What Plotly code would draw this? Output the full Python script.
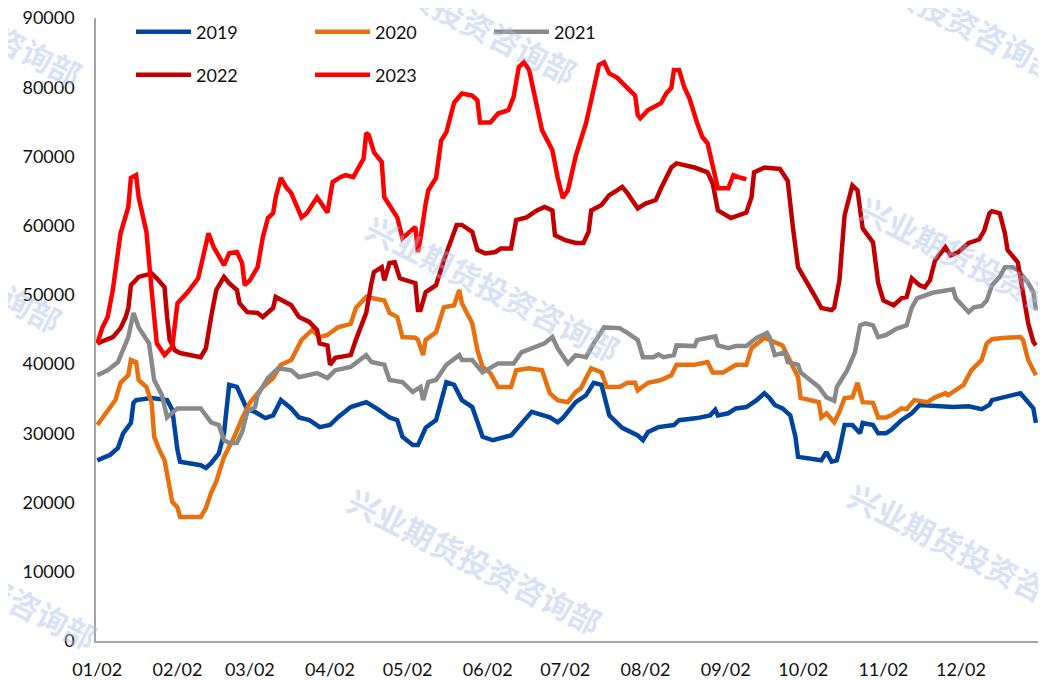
import numpy as np
import pandas as pd
import plotly.graph_objects as go

BASE = pd.Timestamp("2023-01-01")

TICK_LABELS = ["01/02", "02/02", "03/02", "04/02", "05/02", "06/02",
               "07/02", "08/02", "09/02", "10/02", "11/02", "12/02"]
Y_TICKS = [0, 10000, 20000, 30000, 40000, 50000, 60000, 70000, 80000, 90000]

# day of year / value pairs
days_2019 = [2, 7, 10, 12, 15, 16, 17, 23, 29, 31, 33, 34, 42, 44, 46, 49, 51, 53, 56, 58, 60, 63, 67, 70, 73, 77, 80, 84, 88, 92, 95, 100, 106, 110, 115, 118, 120, 124, 126, 129, 133, 137, 140, 143, 147, 151, 155, 162, 170, 177, 180, 182, 187, 191, 194, 197, 200, 205, 209, 211, 213, 215, 219, 225, 227, 234, 239, 241, 242, 246, 249, 253, 257, 260, 262, 264, 267, 270, 272, 273, 282, 284, 286, 288, 289, 291, 294, 297, 298, 302, 304, 307, 309, 313, 317, 320, 333, 339, 344, 347, 348, 353, 359, 362, 364, 365]
vals_2019 = [26100, 26900, 27900, 30000, 31500, 34400, 34800, 35100, 34800, 33400, 27600, 25900, 25400, 25000, 25700, 27100, 30000, 37000, 36700, 35200, 33400, 33100, 32200, 32600, 34800, 33600, 32300, 31900, 30900, 31200, 32300, 33800, 34500, 33600, 32300, 31900, 29500, 28300, 28300, 30800, 31900, 37400, 37000, 34800, 33800, 29500, 29000, 29700, 33100, 32300, 31600, 32200, 34500, 35500, 37300, 37000, 32600, 30800, 30000, 29700, 29000, 30200, 30900, 31200, 31900, 32200, 32600, 33400, 32600, 32900, 33600, 33800, 34800, 35800, 35100, 34100, 33600, 32600, 29500, 26600, 26100, 27300, 25900, 26100, 27600, 31200, 31200, 30000, 31500, 31200, 30000, 30000, 30500, 31900, 32900, 34100, 33800, 33900, 33500, 34100, 34800, 35200, 35800, 34500, 33600, 31500]

days_2020 = [2, 4, 6, 9, 11, 14, 15, 17, 18, 21, 23, 24, 26, 28, 31, 33, 34, 42, 44, 46, 48, 51, 55, 58, 61, 66, 70, 73, 77, 81, 85, 88, 91, 95, 100, 102, 106, 113, 115, 118, 120, 125, 126, 128, 129, 133, 136, 140, 142, 143, 147, 149, 151, 154, 157, 162, 164, 169, 174, 177, 180, 184, 187, 189, 191, 193, 197, 199, 204, 207, 210, 211, 215, 220, 224, 226, 233, 238, 240, 244, 249, 253, 255, 260, 267, 271, 273, 274, 281, 282, 284, 287, 289, 291, 294, 296, 298, 302, 304, 307, 309, 313, 315, 318, 323, 326, 330, 331, 337, 340, 344, 346, 348, 353, 359, 360, 362, 365]
vals_2020 = [31200, 32300, 33400, 34800, 37300, 38400, 40600, 40300, 37700, 36700, 34400, 29500, 27600, 26100, 20100, 19300, 17900, 17900, 19200, 21400, 23000, 26600, 29500, 32200, 34400, 36700, 38000, 39900, 40600, 43500, 44900, 43900, 44200, 45300, 45800, 48100, 49700, 49200, 47400, 46800, 43900, 43800, 43500, 41300, 43500, 44600, 48200, 48500, 50700, 48800, 45900, 42000, 39600, 38700, 36700, 36700, 39100, 39400, 39100, 35800, 34800, 34500, 36000, 36500, 38000, 39400, 38800, 36700, 36700, 37300, 37300, 36200, 37300, 37700, 38400, 39900, 39900, 40300, 38800, 38800, 39900, 39900, 42300, 43800, 42700, 39400, 38100, 35100, 34500, 32300, 32900, 31600, 33100, 35100, 35200, 37300, 34500, 34400, 32300, 32300, 32600, 33600, 33500, 34800, 34500, 35200, 35800, 35500, 37000, 39100, 40600, 43000, 43600, 43800, 43900, 43500, 40600, 38400]

days_2021 = [2, 6, 10, 12, 14, 16, 18, 22, 24, 27, 29, 33, 42, 46, 49, 51, 53, 56, 58, 60, 63, 64, 68, 72, 77, 80, 87, 91, 94, 100, 106, 108, 113, 115, 120, 124, 127, 128, 130, 133, 137, 142, 143, 147, 151, 157, 163, 166, 172, 175, 178, 180, 184, 187, 191, 194, 198, 204, 207, 211, 213, 217, 219, 221, 225, 226, 233, 234, 241, 242, 246, 249, 253, 257, 261, 262, 264, 268, 269, 273, 274, 281, 284, 287, 288, 289, 292, 295, 297, 299, 302, 304, 307, 311, 315, 317, 319, 325, 333, 334, 337, 339, 341, 344, 346, 348, 351, 353, 356, 358, 362, 364, 365]
vals_2021 = [38400, 39100, 40300, 42300, 43900, 47400, 45300, 43000, 37700, 35500, 32300, 33600, 33600, 31600, 31200, 29000, 28600, 28600, 30200, 33100, 33800, 35500, 38000, 39400, 39100, 38100, 38700, 38000, 39100, 39600, 41300, 40300, 39900, 37700, 37400, 36000, 36700, 34800, 37400, 37700, 39900, 41300, 40600, 40600, 38800, 40100, 40100, 41700, 42500, 43000, 43900, 42300, 40100, 41300, 41000, 43000, 45300, 45200, 44500, 43500, 41000, 41000, 41400, 41000, 41300, 42700, 42600, 43500, 44000, 42700, 42300, 42600, 42600, 43800, 44500, 43900, 41300, 41700, 40300, 39900, 38800, 36700, 35200, 34700, 36700, 37300, 39100, 41700, 45600, 45900, 45600, 43900, 44200, 45100, 45600, 48200, 49500, 50300, 50800, 49500, 48400, 47500, 48200, 48400, 49200, 51400, 52600, 54000, 54000, 53600, 51700, 50400, 47800]

days_2022 = [2, 5, 8, 11, 13, 14, 15, 18, 23, 25, 28, 29, 30, 32, 34, 42, 44, 46, 48, 51, 53, 56, 57, 60, 64, 66, 69, 70, 71, 77, 80, 84, 87, 88, 91, 92, 94, 100, 102, 106, 108, 109, 112, 113, 115, 117, 119, 124, 125, 126, 127, 129, 133, 136, 141, 143, 147, 149, 152, 156, 158, 162, 164, 168, 172, 175, 178, 179, 183, 187, 190, 192, 193, 197, 200, 203, 205, 207, 211, 214, 218, 220, 224, 226, 229, 233, 238, 240, 242, 247, 253, 255, 256, 260, 266, 269, 271, 273, 280, 282, 286, 287, 289, 291, 294, 296, 298, 302, 304, 306, 310, 313, 315, 317, 320, 322, 324, 326, 330, 332, 335, 339, 343, 345, 347, 348, 351, 353, 354, 358, 360, 362, 364, 365]
vals_2022 = [43000, 43500, 43900, 45200, 46800, 48100, 51400, 52600, 53100, 52400, 51100, 46800, 43500, 42000, 41600, 41000, 42300, 46800, 50700, 52600, 51700, 50700, 48800, 47500, 47400, 46800, 47800, 48100, 49700, 48500, 46800, 46100, 44900, 43000, 42700, 39900, 40900, 41300, 43500, 47400, 51700, 53300, 54000, 52100, 54600, 54700, 52400, 51800, 51700, 47800, 47800, 50400, 51400, 55000, 60100, 60100, 59100, 56500, 56000, 56200, 56700, 56700, 60800, 61200, 62200, 62700, 62200, 58600, 57900, 57500, 57500, 59100, 62200, 63000, 64400, 65100, 65600, 64700, 62500, 63200, 63700, 65400, 68400, 69000, 68700, 68400, 67700, 66100, 62200, 61100, 61900, 64100, 67700, 68400, 68200, 66500, 59800, 54000, 49500, 48100, 47800, 48200, 52100, 61500, 65800, 65100, 59600, 57600, 51700, 49200, 48500, 49500, 49700, 52400, 51400, 51100, 52100, 55000, 56900, 55700, 56200, 57500, 58000, 59300, 61800, 62100, 61800, 58900, 56500, 54700, 50300, 45900, 43200, 42700]

days_2023 = [2, 4, 6, 8, 11, 13, 14, 15, 17, 18, 21, 23, 25, 28, 31, 33, 37, 41, 45, 47, 49, 51, 53, 56, 58, 59, 61, 64, 66, 68, 70, 71, 73, 75, 77, 80, 81, 83, 87, 91, 93, 96, 98, 101, 103, 105, 106, 107, 109, 112, 113, 116, 118, 120, 123, 125, 126, 127, 129, 130, 133, 135, 137, 140, 143, 147, 149, 150, 154, 157, 161, 163, 165, 167, 169, 172, 174, 178, 180, 182, 184, 187, 191, 193, 196, 198, 200, 203, 206, 210, 211, 212, 215, 220, 222, 224, 225, 227, 229, 231, 234, 236, 238, 240, 242, 246, 248, 250, 253]
vals_2023 = [43000, 45300, 46800, 50700, 58900, 61200, 62700, 66900, 67300, 64100, 59100, 50700, 43000, 41300, 42500, 48800, 50400, 52400, 58900, 56900, 55700, 54300, 56000, 56200, 54600, 51400, 52100, 54000, 58300, 61100, 61800, 64100, 66900, 65600, 64700, 61800, 61200, 61800, 64100, 61900, 66300, 67000, 67300, 67000, 68300, 69700, 73400, 73100, 70600, 69200, 64100, 62200, 61200, 58200, 59100, 59800, 56200, 58200, 63200, 65100, 66900, 72300, 73500, 77800, 79100, 78800, 78100, 74900, 74900, 76200, 76700, 78600, 82900, 83600, 82500, 77700, 73800, 70900, 67000, 64000, 65100, 70000, 74800, 78100, 83200, 83600, 82000, 81400, 80300, 78800, 76000, 75500, 76700, 77700, 79100, 79900, 82500, 82500, 80000, 78400, 74800, 72800, 71900, 68700, 65400, 65400, 67300, 67000, 66700]

SERIES = [
    ("2019", days_2019, vals_2019, "#00449E", "legend"),
    ("2020", days_2020, vals_2020, "#E8710F", "legend"),
    ("2021", days_2021, vals_2021, "#898989", "legend"),
    ("2022", days_2022, vals_2022, "#C00000", "legend2"),
    ("2023", days_2023, vals_2023, "#FF0000", "legend2"),
]

WATERMARK = "兴业期货投资咨询部"

FONT = "Lato, 'Liberation Sans', sans-serif"

# The page body has an 8px default margin, so the figure is drawn 8px in.
PAGE_OFF = 8
FIG_W, FIG_H = 1046 - PAGE_OFF, 680 - PAGE_OFF
# plot-area edges in screen pixels
SL, SR, ST, SB = 96, 1038, 18, 641
L, R, T, B = SL - PAGE_OFF, SR - PAGE_OFF, ST - PAGE_OFF, SB - PAGE_OFF


def scr_to_paper(sx, sy):
    return (sx - SL) / (SR - SL), (SB - sy) / (SB - ST)


fig = go.Figure()
for name, d, v, c, lg in SERIES:
    x = BASE + pd.to_timedelta(np.array(d) - 1, unit="D")
    fig.add_trace(go.Scatter(
        x=x, y=v, mode="lines", name=name, legend=lg,
        line=dict(color=c, width=4.5, shape="linear"),
    ))

wm_centers = [(-45, 12), (450, 10), (935, 8), (-65, 258), (493, 287),
              (986, 268), (-30, 575), (475, 560), (975, 555)]
annotations = []
for cx, cy in wm_centers:
    ax, ay = scr_to_paper(cx, cy)
    annotations.append(dict(
        x=ax, y=ay, xref="paper", yref="paper", text=WATERMARK,
        showarrow=False, textangle=27, xanchor="center", yanchor="middle",
        font=dict(family="Noto Sans CJK SC", size=31, color="rgba(165,190,233,0.45)",
                  weight="bold"),
    ))

ITEM_W = 55
lx1, ly1 = scr_to_paper(131, 32)
lx2, ly2 = scr_to_paper(131, 75)
legend_common = dict(orientation="h", xanchor="left", yanchor="middle",
                     itemwidth=ITEM_W, entrywidth=109, entrywidthmode="pixels",
                     bgcolor="rgba(0,0,0,0)", font=dict(family=FONT, size=18))

fig.update_layout(
    width=FIG_W, height=FIG_H,
    margin=dict(l=L, r=FIG_W - R, t=T, b=FIG_H - B, autoexpand=False),
    paper_bgcolor="white", plot_bgcolor="white",
    font=dict(family=FONT, size=18, color="#111111"),
    showlegend=True,
    legend=dict(x=lx1, y=ly1, **legend_common),
    legend2=dict(x=lx2, y=ly2, **legend_common),
    annotations=annotations,
    xaxis=dict(
        type="date", automargin=False, ticklabeloverflow="allow",
        range=[BASE + pd.Timedelta(hours=12), BASE + pd.Timedelta(days=364.8)],
        tickvals=[pd.Timestamp(2023, m, 2) for m in range(1, 13)],
        ticktext=TICK_LABELS,
        showgrid=False, zeroline=False, ticks="",
        showline=True, linecolor="#A6A6A6", linewidth=1.5,
        tickfont=dict(family=FONT, size=18, color="#111111"),
        ticklabelstandoff=12,
    ),
    yaxis=dict(
        range=[0, 90000], automargin=False, ticklabeloverflow="allow",
        tickvals=Y_TICKS, ticktext=[str(t) for t in Y_TICKS],
        showgrid=False, zeroline=False, ticks="",
        showline=True, linecolor="#A6A6A6", linewidth=1.5,
        tickfont=dict(family=FONT, size=18, color="#111111"),
        ticklabelstandoff=16,
    ),
)

fig.write_html("out.html")
